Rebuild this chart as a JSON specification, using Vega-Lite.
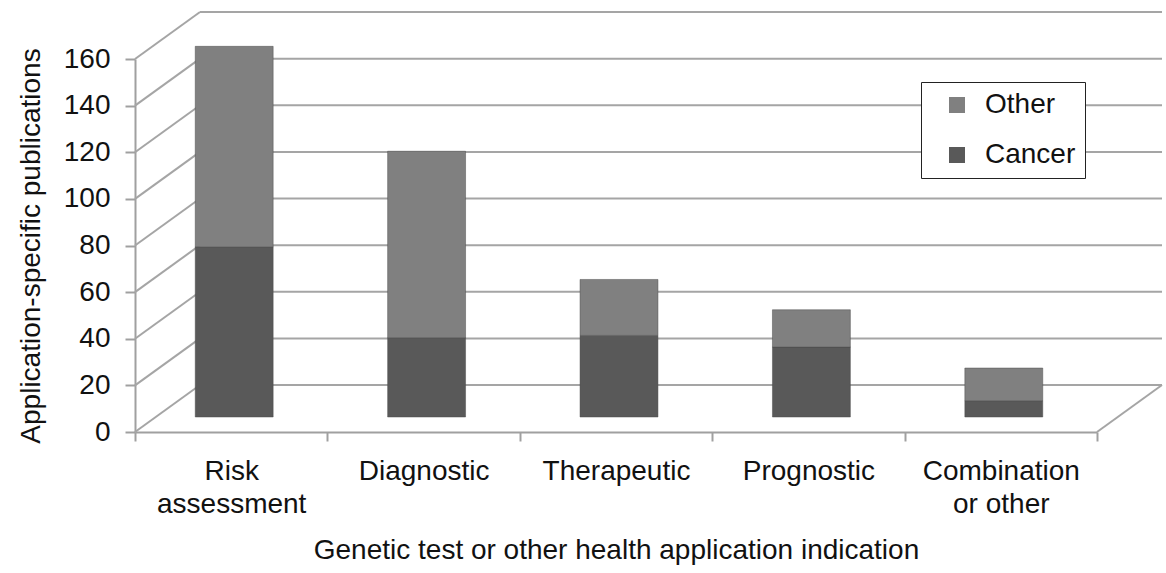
{
  "$schema": "https://vega.github.io/schema/vega-lite/v6.json",
  "autosize": "none",
  "padding": {"left": 135, "top": 59, "right": 69, "bottom": 141},
  "width": 962,
  "height": 373,
  "config": {
    "font": "Liberation Sans",
    "view": {"stroke": null},
    "axis": {
      "domainColor": "#a0a0a0",
      "domainWidth": 2,
      "tickColor": "#a0a0a0",
      "tickWidth": 2,
      "labelColor": "#111111",
      "titleColor": "#111111",
      "labelFontSize": 28,
      "titleFontSize": 28,
      "titleFontWeight": "normal",
      "grid": false
    }
  },
  "datasets": {
    "pubs": [
      {"indication": "Risk assessment", "series": "Cancer", "count": 73},
      {"indication": "Risk assessment", "series": "Other", "count": 86},
      {"indication": "Diagnostic", "series": "Cancer", "count": 34},
      {"indication": "Diagnostic", "series": "Other", "count": 80},
      {"indication": "Therapeutic", "series": "Cancer", "count": 35},
      {"indication": "Therapeutic", "series": "Other", "count": 24},
      {"indication": "Prognostic", "series": "Cancer", "count": 30},
      {"indication": "Prognostic", "series": "Other", "count": 16},
      {"indication": "Combination or other", "series": "Cancer", "count": 7},
      {"indication": "Combination or other", "series": "Other", "count": 14}
    ],
    "ticks": [
      {"v": 0}, {"v": 20}, {"v": 40}, {"v": 60}, {"v": 80},
      {"v": 100}, {"v": 120}, {"v": 140}, {"v": 160}
    ],
    "floor": [{"v": 0}]
  },
  "layer": [
    {
      "data": {"name": "ticks"},
      "mark": {"type": "rule", "color": "#a5a5a5", "strokeWidth": 2, "xOffset": 65, "x2Offset": 65, "yOffset": -47, "y2Offset": -47},
      "encoding": {
        "x": {"value": 0},
        "x2": {"value": {"expr": "width"}},
        "y": {"field": "v", "type": "quantitative", "scale": {"domain": [0, 160]}}
      }
    },
    {
      "data": {"name": "ticks"},
      "mark": {"type": "rule", "color": "#a5a5a5", "strokeWidth": 2, "x2Offset": 65, "y2Offset": -47},
      "encoding": {
        "x": {"value": 0},
        "x2": {"value": 0},
        "y": {"field": "v", "type": "quantitative"},
        "y2": {"field": "v"}
      }
    },
    {
      "data": {"name": "floor"},
      "mark": {"type": "rule", "color": "#a5a5a5", "strokeWidth": 2, "x2Offset": 65, "y2Offset": -47},
      "encoding": {
        "x": {"value": {"expr": "width"}},
        "x2": {"value": {"expr": "width"}},
        "y": {"field": "v", "type": "quantitative"},
        "y2": {"field": "v"}
      }
    },
    {
      "data": {"name": "pubs"},
      "mark": {"type": "bar", "width": {"band": 0.405}, "yOffset": -15, "y2Offset": -15, "xOffset": 3, "stroke": "#4a4a4a", "strokeWidth": 0.8, "strokeOpacity": 0.6},
      "encoding": {
        "x": {
          "field": "indication",
          "type": "nominal",
          "sort": ["Risk assessment", "Diagnostic", "Therapeutic", "Prognostic", "Combination or other"],
          "scale": {"paddingInner": 0, "paddingOuter": 0},
          "axis": {
            "title": "Genetic test or other health application indication",
            "labelAngle": 0,
            "tickBand": "extent",
            "tickSize": 9,
            "labelPadding": 16,
            "labelLineHeight": 33,
            "labelExpr": "datum.value == 'Risk assessment' ? ['Risk', 'assessment'] : datum.value == 'Combination or other' ? ['Combination', 'or other'] : datum.value",
            "titlePadding": 18
          }
        },
        "y": {
          "field": "count",
          "type": "quantitative",
          "stack": "zero",
          "axis": {
            "title": "Application-specific publications",
            "values": [0, 20, 40, 60, 80, 100, 120, 140, 160],
            "tickSize": 10,
            "labelPadding": 15,
            "titlePadding": 18
          }
        },
        "color": {
          "field": "series",
          "type": "nominal",
          "scale": {"domain": ["Other", "Cancer"], "range": ["#808080", "#595959"]},
          "legend": {
            "title": null,
            "orient": "none",
            "legendX": 786,
            "legendY": 23,
            "padding": 9,
            "symbolType": "square",
            "symbolSize": 256,
            "symbolOffset": 13,
            "symbolStrokeWidth": 0,
            "labelOffset": 14,
            "labelFontSize": 28,
            "labelColor": "#111111",
            "rowPadding": 22,
            "strokeColor": "#222222",
            "fillColor": "white"
          }
        },
        "order": {"field": "series", "sort": "ascending"}
      }
    }
  ]
}
